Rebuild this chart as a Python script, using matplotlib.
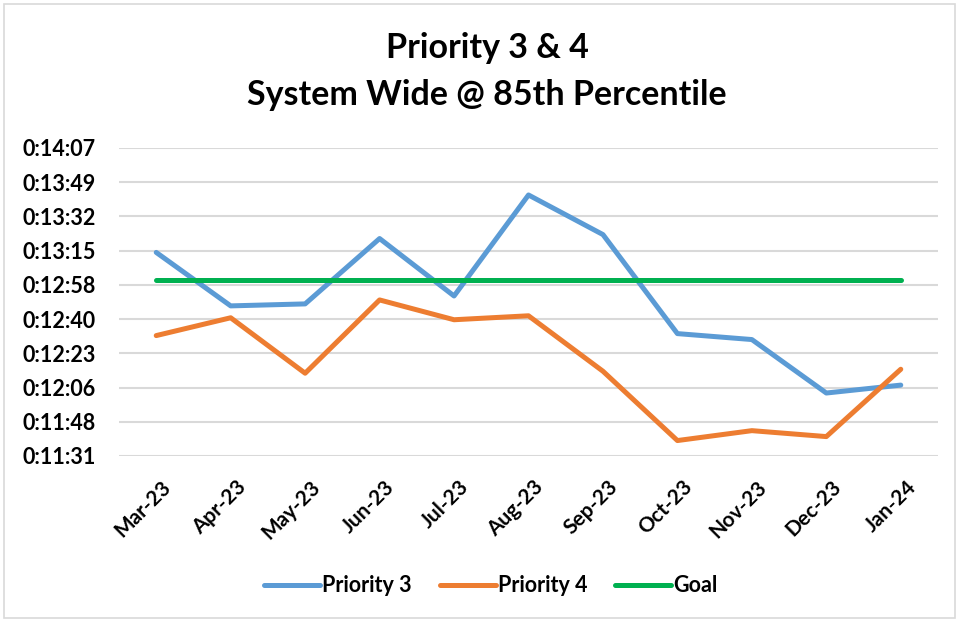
import matplotlib.pyplot as plt
from matplotlib.patches import Rectangle
from matplotlib.ticker import FixedLocator, FuncFormatter
from matplotlib.transforms import ScaledTranslation

plt.rcParams['font.family'] = ['Lato', 'DejaVu Sans']

months = ['Mar-23', 'Apr-23', 'May-23', 'Jun-23', 'Jul-23', 'Aug-23',
          'Sep-23', 'Oct-23', 'Nov-23', 'Dec-23', 'Jan-24']

# response times at the 85th percentile, m:ss
priority3 = ['13:14', '12:47', '12:48', '13:21', '12:52', '13:43',
             '13:23', '12:33', '12:30', '12:03', '12:07']
priority4 = ['12:32', '12:41', '12:13', '12:50', '12:40', '12:42',
             '12:14', '11:39', '11:44', '11:41', '12:15']
goal = ['13:00'] * len(months)

# axis runs in Excel day fractions: 0.0080 .. 0.0098 step 0.0002
y_min_days = 0.0080
y_step_days = 0.0002
n_ticks = 10


def to_sec(s):
    m, sec = s.split(':')
    return int(m) * 60 + int(sec)


def fmt_time(v, pos=None):
    t = int(round(v))
    return '%d:%02d:%02d' % (t // 3600, (t % 3600) // 60, t % 60)


p3 = [to_sec(v) for v in priority3]
p4 = [to_sec(v) for v in priority4]
g = [to_sec(v) for v in goal]
x = list(range(len(months)))

yticks = [(y_min_days + i * y_step_days) * 86400 for i in range(n_ticks)]

fig = plt.figure(figsize=(9.59, 6.22), dpi=100)
ax = fig.add_axes([119 / 959, 1 - 456 / 622, (938 - 119) / 959, (456 - 148) / 622])

ax.plot(x, p3, color='#5B9BD5', lw=3.6, solid_capstyle='round', label='Priority 3', zorder=3)
ax.plot(x, p4, color='#ED7D31', lw=3.6, solid_capstyle='round', label='Priority 4', zorder=3)
ax.plot(x, g, color='#00B050', lw=3.6, solid_capstyle='round', label='Goal', zorder=3)

ax.set_xlim(-0.5, len(months) - 0.5)
ax.set_ylim(yticks[0], yticks[-1])
ax.yaxis.set_major_locator(FixedLocator(yticks))
ax.yaxis.set_major_formatter(FuncFormatter(fmt_time))
ax.grid(axis='y', color='#D9D9D9', lw=1.5)
ax.set_axisbelow(True)
for s in ax.spines.values():
    s.set_visible(False)
ax.tick_params(length=0)
ax.tick_params(axis='y', pad=16.5, labelsize=15.5)

ax.set_xticks(x)
ax.set_xticklabels(months, rotation=45, ha='right', rotation_mode='anchor',
                   fontsize=15, fontweight='bold')
ax.tick_params(axis='x', pad=15)
shift = ScaledTranslation(5 / 100, 0, fig.dpi_scale_trans)
for lab in ax.get_xticklabels():
    lab.set_transform(lab.get_transform() + shift)
for lab in ax.get_yticklabels():
    lab.set_fontweight('bold')

fig.text(487 / 959, 1 - 48 / 622, 'Priority 3 & 4', ha='center', va='center',
         fontsize=24.5, fontweight='bold')
fig.text(487 / 959, 1 - 95 / 622, 'System Wide @ 85th Percentile', ha='center', va='center',
         fontsize=24.5, fontweight='bold')

leg = fig.legend(loc='center', bbox_to_anchor=(491 / 959, 1 - 586 / 622), ncol=3, frameon=False,
                 prop={'weight': 'bold', 'size': 15.5}, handlelength=2.6,
                 handletextpad=0.1, columnspacing=1.3)

# outer chart border
fig.add_artist(Rectangle((4 / 959, 4 / 622), 951 / 959, 614 / 622, transform=fig.transFigure,
                         fill=False, edgecolor='#D9D9D9', lw=1.2))

fig.savefig('out.png', dpi=100)
